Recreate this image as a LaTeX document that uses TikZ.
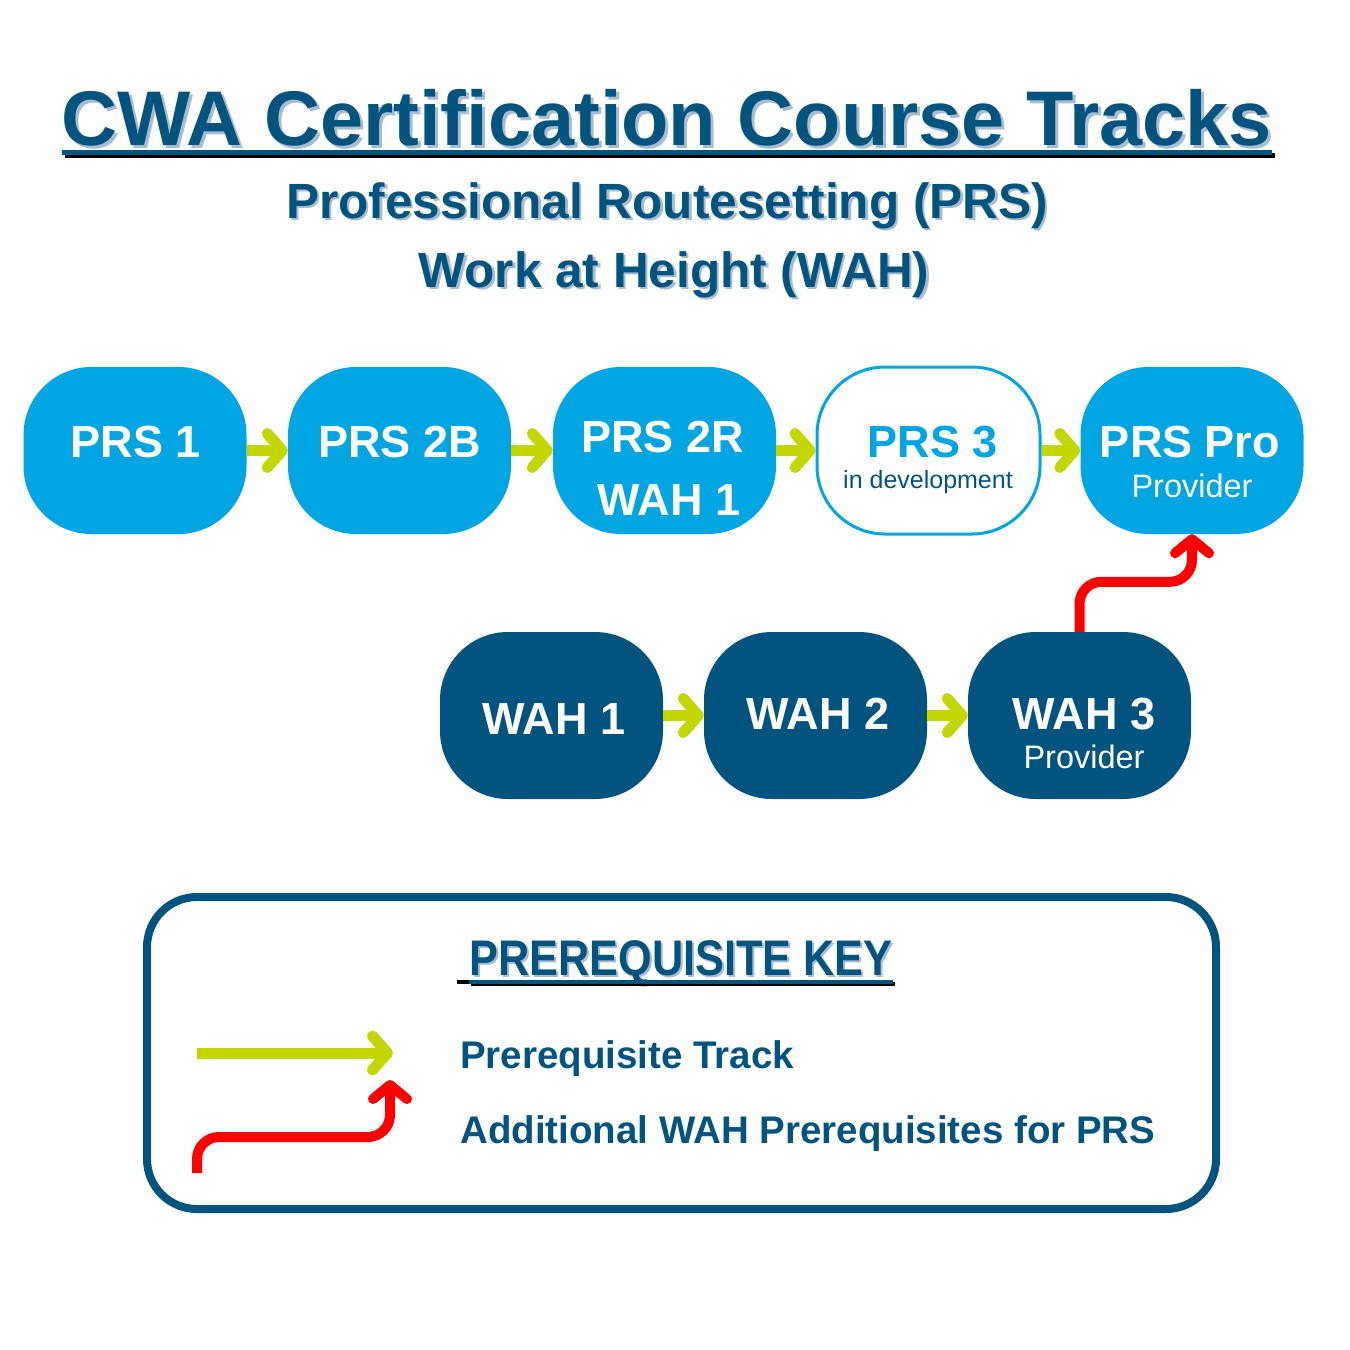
\documentclass[tikz,border=0pt]{standalone}
\usepackage{fontspec}
\setmainfont{Liberation Sans}
\newfontfamily\condfont[FakeStretch=0.865]{Liberation Sans}
\usetikzlibrary{arrows.meta}
\definecolor{dblue}{RGB}{2,84,127}
\definecolor{lblue}{RGB}{0,165,226}
\definecolor{tgreen}{RGB}{196,214,0}
\definecolor{tred}{RGB}{255,0,0}
\definecolor{shade}{RGB}{168,188,210}
\newcommand\shtext[2]{\makebox[0pt][l]{\hspace*{#1}\raisebox{-#1}{\textcolor{shade}{#2}}}#2}
\tikzset{
  box/.style={rounded corners=68pt, minimum width=223pt, minimum height=167pt, inner sep=0pt},
  lbox/.style={box, fill=lblue},
  dbox/.style={box, fill=dblue},
  obox/.style={box, fill=white, draw=lblue, line width=3pt},
  btext/.style={text=white, font=\fontsize{45}{54}\selectfont\bfseries, inner sep=0pt, anchor=base},
  stext/.style={font=\fontsize{32.5}{38}\selectfont, inner sep=0pt, anchor=base},
  ttext/.style={inner sep=0pt, anchor=base},
  garrow/.style={draw=tgreen, line width=11pt, -{Straight Barb[length=15pt,width=34pt,round]}},
  rarrow/.style={draw=tred, line width=10pt, rounded corners=22pt, -{Straight Barb[length=14pt,width=34pt,round]}},
  keybox/.style={draw=dblue, line width=8pt, rounded corners=50pt, minimum width=1069pt, minimum height=312pt, inner sep=0pt},
}
\begin{document}
\begin{tikzpicture}[x=1pt,y=-1pt]
\useasboundingbox[fill=white] (0,0) rectangle (1350,1350);

% title
\node[ttext, text=dblue, font=\fontsize{77.5}{80}\selectfont\bfseries] (title) at (667,145) {\shtext{3pt}{CWA Certification Course Tracks}};
\draw[shade, line width=5pt] ([shift={(3pt,-10pt)}]title.base west) -- ([shift={(3pt,-10pt)}]title.base east);
\draw[dblue, line width=5pt] ([yshift=-7pt]title.base west) -- ([yshift=-7pt]title.base east);

\node[ttext, text=dblue, font=\fontsize{49.5}{54}\selectfont\bfseries] (sub1) at (667,218) {\shtext{2.5pt}{Professional Routesetting (PRS)}};
\node[ttext, text=dblue, font=\fontsize{49.5}{54}\selectfont\bfseries] (sub2) at (674,287) {\shtext{2.5pt}{Work at Height (WAH)}};

% PRS row
\node[lbox] (prs1) at (135,450.5) {};
\node[lbox] (prs2b) at (399.5,450.5) {};
\node[lbox] (prs2r) at (664.5,450.5) {};
\node[obox] (prs3) at (928.5,450.5) {};
\node[lbox] (pro) at (1192,450.5) {};

\node[btext] (t1) at (136,457) {PRS 1};
\node[btext] (t2) at (399.5,457) {PRS 2B};
\node[btext] (t3a) at (662.5,452) {PRS 2R};
\node[btext] (t3b) at (669,515) {WAH 1};
\node[btext, text=lblue] (t4) at (933,457) {PRS 3};
\node[ttext, text=dblue, font=\fontsize{25}{30}\selectfont] (t4b) at (928,488) {in development};
\node[btext] (t5) at (1190,457) {PRS Pro};
\node[stext, text=white] (t5b) at (1192,497) {Provider};

% WAH row
\node[dbox] (wah1) at (551.5,715.5) {};
\node[dbox] (wah2) at (815.5,715.5) {};
\node[dbox] (wah3) at (1079.5,715.5) {};
\node[btext] (w1) at (554,734) {WAH 1};
\node[btext] (w2) at (818,729) {WAH 2};
\node[btext] (w3) at (1084,729) {WAH 3};
\node[stext, text=white] (w3b) at (1084,768) {Provider};

% arrows
\draw[garrow] (prs1.east) -- (prs2b.west);
\draw[garrow] (prs2b.east) -- (prs2r.west);
\draw[garrow] (prs2r.east) -- (prs3.west);
\draw[garrow] (prs3.east) -- (pro.west);
\draw[garrow] (wah1.east) -- (wah2.west);
\draw[garrow] (wah2.east) -- (wah3.west);
\draw[rarrow] (wah3.north) -- ++(0,-50) -| (pro.south);

% key
\node[keybox] (key) at (681.5,1053) {};
\node[ttext, text=dblue, font=\condfont\fontsize{50}{54}\selectfont\bfseries] (keyh) at (681,975) {\shtext{2pt}{PREREQUISITE KEY}};
\draw[shade, line width=3.5pt] ([shift={(2pt,-9pt)}]keyh.base west) -- ([shift={(2pt,-9pt)}]keyh.base east);
\draw[dblue, line width=3.5pt] ([yshift=-7pt]keyh.base west) -- ([yshift=-7pt]keyh.base east);
\draw[black, line width=3.5pt] ([shift={(-12pt,-7pt)}]keyh.base west) -- ([yshift=-7pt]keyh.base west);

\coordinate (g1) at (197,1053);
\coordinate (g2) at (393,1053);
\draw[garrow] (g1) -- (g2);
\coordinate (r1) at (197,1173);
\coordinate (rm) at (390,1137);
\coordinate (r2) at (390,1080);
\draw[rarrow] (r1) |- (rm) -- (r2);

\node[ttext, anchor=base west, text=dblue, font=\fontsize{38.5}{44}\selectfont\bfseries] (k1) at (460,1068) {Prerequisite Track};
\node[ttext, anchor=base west, text=dblue, font=\fontsize{38.5}{44}\selectfont\bfseries] (k2) at (460,1143) {Additional WAH Prerequisites for PRS};
\end{tikzpicture}
\end{document}
